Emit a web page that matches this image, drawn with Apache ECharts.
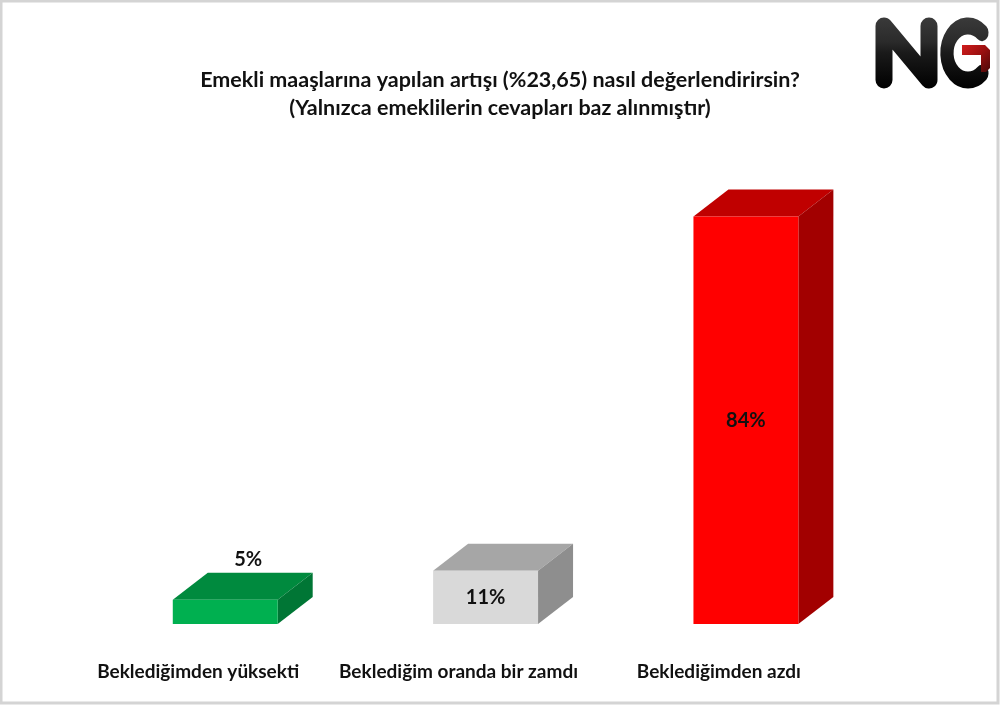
<!DOCTYPE html>
<html>
<head>
<meta charset="utf-8">
<script src="https://cdn.jsdelivr.net/npm/echarts@6/dist/echarts.min.js"></script>
<style>
html,body{margin:0;padding:0;background:#fff;}
#chart{width:1000px;height:705px;}
</style>
</head>
<body>
<div id="chart"></div>
<script>
var titleLines = ['Emekli maaşlarına yapılan artışı (%23,65) nasıl değerlendirirsin?', '(Yalnızca emeklilerin cevapları baz alınmıştır)'];
var categories = ['Beklediğimden yüksekti', 'Beklediğim oranda bir zamdı', 'Beklediğimden azdı'];
var values = [5, 11, 84];

var palette = [
  {front: '#00b050', top: '#008a3e', side: '#007635'},
  {front: '#d9d9d9', top: '#a6a6a6', side: '#8e8e8e'},
  {front: '#ff0000', top: '#c00000', side: '#a20000'}
];
var FONT = 'Lato, "Open Sans", sans-serif';

var chart = echarts.init(document.getElementById('chart'), null, {renderer: 'canvas'});

function renderItem(params, api) {
  var idx = api.value(0);
  var val = api.value(1);
  var top = api.coord([idx, val]);
  var base = api.coord([idx, 0]);
  var band = api.size([1, 0])[0];
  var w = band * 0.403;
  var cx = top[0] + band * 0.104;
  var x0 = cx - w / 2, x1 = cx + w / 2;
  var yT = top[1], yB = base[1];
  var dx = 35, dy = 27;
  var c = palette[idx];
  var small = (yB - yT) < 35;
  var children = [
    {type: 'polygon', shape: {points: [[x0, yT], [x1, yT], [x1 + dx, yT - dy], [x0 + dx, yT - dy]]}, style: {fill: c.top}},
    {type: 'polygon', shape: {points: [[x1, yT], [x1 + dx, yT - dy], [x1 + dx, yB - dy], [x1, yB]]}, style: {fill: c.side}},
    {type: 'rect', shape: {x: x0, y: yT, width: w, height: yB - yT}, style: {fill: c.front}},
    {type: 'text', style: {
      text: val + '%',
      x: small ? cx + 23 : cx,
      y: small ? yT - dy - 13 : (yT + yB) / 2,
      align: 'center', verticalAlign: 'middle',
      fill: '#111', font: 'bold 20px ' + FONT
    }}
  ];
  return {type: 'group', children: children};
}

function logoGrad() {
  return new echarts.graphic.LinearGradient(0, 0, 0, 1, [
    {offset: 0, color: '#3a3a3a'}, {offset: 0.35, color: '#2a2a2a'}, {offset: 0.5, color: '#1a1a1a'}, {offset: 1, color: '#000'}
  ]);
}

var option = {
  backgroundColor: '#ffffff',
  animation: false,
  grid: {left: 68, right: 151, top: 139, bottom: 81, containLabel: false},
  xAxis: {
    type: 'category',
    data: categories,
    axisLine: {show: false},
    axisTick: {show: false},
    axisLabel: {margin: 38, fontSize: 19, fontWeight: 'bold', color: '#111', fontFamily: FONT, interval: 0}
  },
  yAxis: {type: 'value', min: 0, max: 100, show: false, splitLine: {show: false}},
  series: [{
    type: 'custom',
    renderItem: renderItem,
    encode: {x: 0, y: 1},
    data: values.map(function (v, i) { return [i, v]; }),
    clip: false
  }],
  graphic: [
    {type: 'rect', shape: {x: 1, y: 1, width: 997, height: 702}, style: {fill: 'none', stroke: '#d4d4d4', lineWidth: 3}, silent: true},
    {type: 'text', x: 500, y: 80, style: {text: titleLines[0], align: 'center', verticalAlign: 'middle', fill: '#111', font: 'bold 21.5px ' + FONT}},
    {type: 'text', x: 500, y: 108, style: {text: titleLines[1], align: 'center', verticalAlign: 'middle', fill: '#111', font: 'bold 21.5px ' + FONT}},
    {type: 'polyline', shape: {points: [[884, 80], [884, 26], [929, 80], [929, 26]]},
      style: {fill: null, stroke: logoGrad(), lineWidth: 17, lineCap: 'round', lineJoin: 'round'}},
    {type: 'arc', x: 968, y: 53, scaleX: 0.78, shape: {cx: 0, cy: 0, r: 27, startAngle: -0.85, endAngle: 0.85, clockwise: false},
      style: {fill: null, stroke: logoGrad(), lineWidth: 17, lineCap: 'round'}},
    {type: 'polygon', shape: {points: [[962, 45], [985, 45], [990, 50], [990, 68], [986, 72], [981, 72], [981, 55], [962, 55]]},
      style: {fill: new echarts.graphic.LinearGradient(0, 0, 1, 1, [{offset: 0, color: '#d01c1c'}, {offset: 0.5, color: '#9a1010'}, {offset: 1, color: '#4a0808'}])}}
  ]
};
chart.setOption(option);
</script>
</body>
</html>
